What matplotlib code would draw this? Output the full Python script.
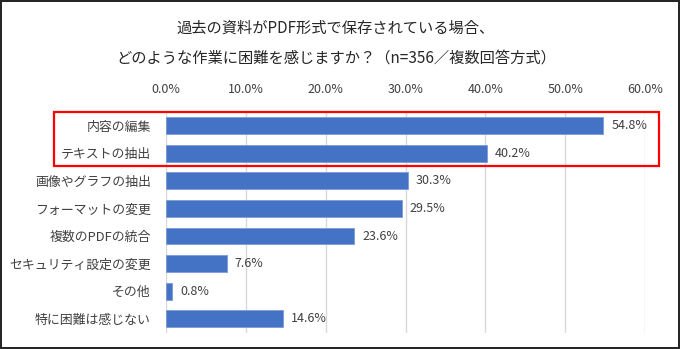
import matplotlib
matplotlib.use("Agg")
import matplotlib.pyplot as plt
from matplotlib.patches import Rectangle

plt.rcParams['font.family'] = ['Noto Sans CJK JP', 'DejaVu Sans']

categories = ["内容の編集", "テキストの抽出", "画像やグラフの抽出", "フォーマットの変更",
              "複数のPDFの統合", "セキュリティ設定の変更", "その他", "特に困難は感じない"]
values = [54.8, 40.2, 30.3, 29.5, 23.6, 7.6, 0.8, 14.6]
xticks = [0, 10, 20, 30, 40, 50, 60]
title_lines = ["過去の資料がPDF形式で保存されている場合、",
               "どのような作業に困難を感じますか？（n=356／複数回答方式）"]

W, H = 680, 349
fig = plt.figure(figsize=(W / 100, H / 100), dpi=100)
fig.patch.set_facecolor('white')

# plot area in pixels
left, right, top, bottom = 166, 645, 111.7, 332.7
ax = fig.add_axes([left / W, 1 - bottom / H, (right - left) / W, (bottom - top) / H])

ypos = list(range(len(categories)))
ax.barh(ypos, values, height=0.61, color='#4472C4', edgecolor='#7C9BD6',
        linewidth=0.6, zorder=3)
for y, v in zip(ypos, values):
    ax.text(v + 1.0, y, f"{v:.1f}%", va='center', ha='left', fontsize=9,
            color='#404040')

ax.set_xlim(0, 60)
ax.set_ylim(len(categories) - 0.5, -0.5)
ax.set_xticks(xticks)
ax.set_xticklabels([f"{t:.1f}%" for t in xticks])
ax.xaxis.tick_top()
ax.set_yticks(ypos)
ax.set_yticklabels(categories)
ax.tick_params(axis='x', length=0, pad=11, labelsize=9, labelcolor='#404040')
ax.tick_params(axis='y', length=0, pad=11, labelsize=9.3, labelcolor='#404040')
ax.grid(axis='x', color='#D9D9D9', linewidth=1.0, zorder=0)
for s in ax.spines.values():
    s.set_visible(False)

# title, two lines
fig.text(336 / W, 1 - 28 / H, title_lines[0], ha='center', va='center',
         fontsize=11, color='#262626')
fig.text(336 / W, 1 - 58 / H, title_lines[1], ha='center', va='center',
         fontsize=11, color='#262626')

# red highlight box around the top two items
x0, x1, y0, y1 = 53.5, 659, 111.5, 165.5
fig.patches.append(Rectangle((x0 / W, 1 - y1 / H), (x1 - x0) / W, (y1 - y0) / H,
                             transform=fig.transFigure, fill=False,
                             edgecolor='#FF0000', linewidth=1.6, zorder=10))

# dark frame around the image
fc = '#262626'
for (bx, by, bw, bh) in [(0, 0, 1.8, H), (0, 0, W, 1.8),
                         (W - 2.5, 0, 2.5, H), (0, H - 2.5, W, 2.5)]:
    fig.patches.append(Rectangle((bx / W, 1 - (by + bh) / H), bw / W, bh / H,
                                 transform=fig.transFigure, facecolor=fc,
                                 edgecolor='none', zorder=11))

fig.savefig("out.png", dpi=100)
